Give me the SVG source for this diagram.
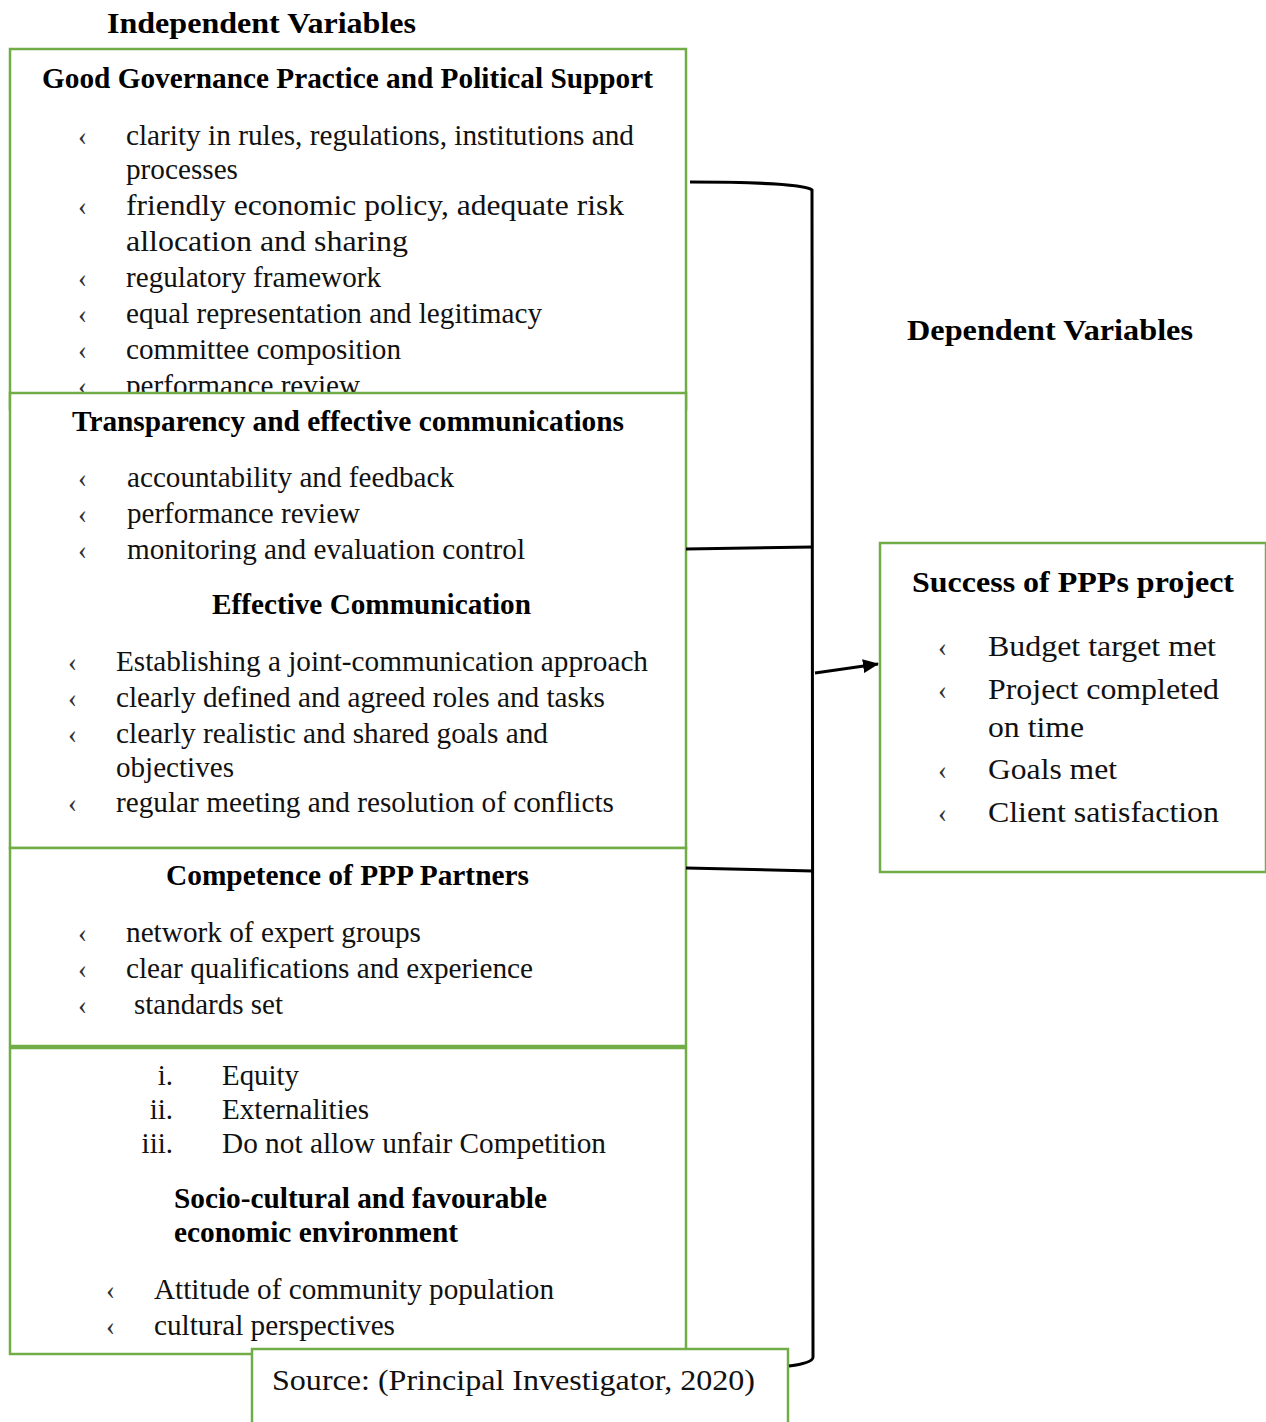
<svg xmlns="http://www.w3.org/2000/svg" width="1266" height="1422" viewBox="0 0 1266 1422" font-family="Liberation Serif, Times New Roman, serif">
  <defs>
    <style>
      .box { fill: #ffffff; stroke: #70ad47; stroke-width: 2.5; }
      .t { font-size: 29px; fill: #111; }
      .h { font-size: 29px; font-weight: bold; fill: #000; }
      .b { font-size: 27px; fill: #333; }
      .r { font-size: 30px; fill: #111; }
      .rh { font-size: 29px; font-weight: bold; fill: #000; }
      .wire { fill: none; stroke: #000; stroke-width: 3; }
    </style>
    <marker id="arrowhead" markerUnits="userSpaceOnUse" markerWidth="16" markerHeight="14" refX="15" refY="7" orient="auto">
      <path d="M0,0 L16,7 L0,14 Z" fill="#000"/>
    </marker>
  </defs>

  <rect width="1266" height="1422" fill="#ffffff"/>

  <!-- section heading -->
  <text class="h" x="107" y="33" font-size="31" textLength="309" lengthAdjust="spacingAndGlyphs">Independent Variables</text>

  <!-- Good governance -->
  <g id="governance">
    <rect class="box" x="10" y="49" width="676" height="360"/>
    <text class="h" x="42" y="88" textLength="611" lengthAdjust="spacingAndGlyphs">Good Governance Practice and Political Support</text>
    <text class="b" x="78" y="145">‹</text>
    <text class="t" x="126" y="145" textLength="508" lengthAdjust="spacingAndGlyphs">clarity in rules, regulations, institutions and</text>
    <text class="t" x="126" y="179" textLength="112" lengthAdjust="spacingAndGlyphs">processes</text>
    <text class="b" x="78" y="215">‹</text>
    <text class="t" x="126" y="215" textLength="498" lengthAdjust="spacingAndGlyphs">friendly economic policy, adequate risk</text>
    <text class="t" x="126" y="251" textLength="282" lengthAdjust="spacingAndGlyphs">allocation and sharing</text>
    <text class="b" x="78" y="287">‹</text>
    <text class="t" x="126" y="287" textLength="255" lengthAdjust="spacingAndGlyphs">regulatory framework</text>
    <text class="b" x="78" y="323">‹</text>
    <text class="t" x="126" y="323" textLength="416" lengthAdjust="spacingAndGlyphs" fill="#3c3c3c">equal representation and legitimacy</text>
    <text class="b" x="78" y="359">‹</text>
    <text class="t" x="126" y="359" textLength="275" lengthAdjust="spacingAndGlyphs">committee composition</text>
    <text class="b" x="78" y="395">‹</text>
    <text class="t" x="126" y="395" textLength="234" lengthAdjust="spacingAndGlyphs">performance review</text>
  </g>

  <!-- Transparency and communication -->
  <g id="transparency">
    <rect class="box" x="10" y="393" width="676" height="455"/>
    <text class="h" x="72" y="431" textLength="552" lengthAdjust="spacingAndGlyphs">Transparency and effective communications</text>
    <text class="b" x="78" y="487">‹</text>
    <text class="t" x="127" y="487" textLength="327" lengthAdjust="spacingAndGlyphs">accountability and feedback</text>
    <text class="b" x="78" y="523">‹</text>
    <text class="t" x="127" y="523" textLength="233" lengthAdjust="spacingAndGlyphs">performance review</text>
    <text class="b" x="78" y="559">‹</text>
    <text class="t" x="127" y="559" textLength="398" lengthAdjust="spacingAndGlyphs">monitoring and evaluation control</text>
    <text class="h" x="212" y="614" textLength="319" lengthAdjust="spacingAndGlyphs">Effective Communication</text>
    <text class="b" x="68" y="671">‹</text>
    <text class="t" x="116" y="671" textLength="532" lengthAdjust="spacingAndGlyphs">Establishing a joint-communication approach</text>
    <text class="b" x="68" y="707">‹</text>
    <text class="t" x="116" y="707" textLength="489" lengthAdjust="spacingAndGlyphs">clearly defined and agreed roles and tasks</text>
    <text class="b" x="68" y="743">‹</text>
    <text class="t" x="116" y="743" textLength="432" lengthAdjust="spacingAndGlyphs">clearly realistic and shared goals and</text>
    <text class="t" x="116" y="777" textLength="118" lengthAdjust="spacingAndGlyphs">objectives</text>
    <text class="b" x="68" y="812">‹</text>
    <text class="t" x="116" y="812" textLength="498" lengthAdjust="spacingAndGlyphs">regular meeting and resolution of conflicts</text>
  </g>

  <!-- Competence -->
  <g id="competence">
    <rect class="box" x="10" y="848" width="676" height="198"/>
    <text class="h" x="166" y="885" textLength="363" lengthAdjust="spacingAndGlyphs">Competence of PPP Partners</text>
    <text class="b" x="78" y="942">‹</text>
    <text class="t" x="126" y="942" textLength="295" lengthAdjust="spacingAndGlyphs">network of expert groups</text>
    <text class="b" x="78" y="978">‹</text>
    <text class="t" x="126" y="978" textLength="407" lengthAdjust="spacingAndGlyphs">clear qualifications and experience</text>
    <text class="b" x="78" y="1014">‹</text>
    <text class="t" x="134" y="1014" textLength="149" lengthAdjust="spacingAndGlyphs">standards set</text>
  </g>

  <!-- Socio-cultural environment -->
  <g id="environment">
    <rect class="box" x="10" y="1048" width="676" height="306"/>
    <text class="t" x="173" y="1085" text-anchor="end">i.</text>
    <text class="t" x="222" y="1085" textLength="77" lengthAdjust="spacingAndGlyphs">Equity</text>
    <text class="t" x="173" y="1119" text-anchor="end">ii.</text>
    <text class="t" x="222" y="1119" textLength="147" lengthAdjust="spacingAndGlyphs">Externalities</text>
    <text class="t" x="173" y="1153" text-anchor="end">iii.</text>
    <text class="t" x="222" y="1153" textLength="384" lengthAdjust="spacingAndGlyphs">Do not allow unfair Competition</text>
    <text class="h" x="174" y="1208" textLength="373" lengthAdjust="spacingAndGlyphs">Socio-cultural and favourable</text>
    <text class="h" x="174" y="1242" textLength="284" lengthAdjust="spacingAndGlyphs">economic environment</text>
    <text class="b" x="106" y="1299">‹</text>
    <text class="t" x="154" y="1299" textLength="400" lengthAdjust="spacingAndGlyphs">Attitude of community population</text>
    <text class="b" x="106" y="1335">‹</text>
    <text class="t" x="154" y="1335" textLength="241" lengthAdjust="spacingAndGlyphs">cultural perspectives</text>
  </g>

  <!-- Source note -->
  <g id="source">
    <rect class="box" x="252" y="1349" width="536" height="90"/>
    <text class="t" x="272" y="1390" font-size="32" textLength="483" lengthAdjust="spacingAndGlyphs">Source: (Principal Investigator, 2020)</text>
  </g>

  <!-- Dependent side -->
  <text class="rh" x="907" y="340" textLength="286" lengthAdjust="spacingAndGlyphs">Dependent Variables</text>

  <g id="success">
    <rect class="box" x="880" y="543" width="386" height="329"/>
    <text class="rh" x="912" y="592" textLength="322" lengthAdjust="spacingAndGlyphs">Success of PPPs project</text>
    <text class="b" x="938" y="656">‹</text>
    <text class="r" x="988" y="656" textLength="228" lengthAdjust="spacingAndGlyphs">Budget target met</text>
    <text class="b" x="938" y="699">‹</text>
    <text class="r" x="988" y="699" textLength="231" lengthAdjust="spacingAndGlyphs">Project completed</text>
    <text class="r" x="988" y="737" textLength="96" lengthAdjust="spacingAndGlyphs">on time</text>
    <text class="b" x="938" y="779">‹</text>
    <text class="r" x="988" y="779" textLength="129" lengthAdjust="spacingAndGlyphs">Goals met</text>
    <text class="b" x="938" y="822">‹</text>
    <text class="r" x="988" y="822" textLength="231" lengthAdjust="spacingAndGlyphs">Client satisfaction</text>
  </g>

  <!-- connectors: bracket joining the independent boxes, arrow into the outcome box -->
  <g id="connectors">
    <path class="wire" d="M690,182 C760,182 806,185 812,190 L813,1357 Q813,1363 789,1366"/>
    <path class="wire" d="M686,549 L813,547"/>
    <path class="wire" d="M686,868 L813,871"/>
    <path class="wire" d="M815,673 L878,664" marker-end="url(#arrowhead)"/>
  </g>
</svg>
